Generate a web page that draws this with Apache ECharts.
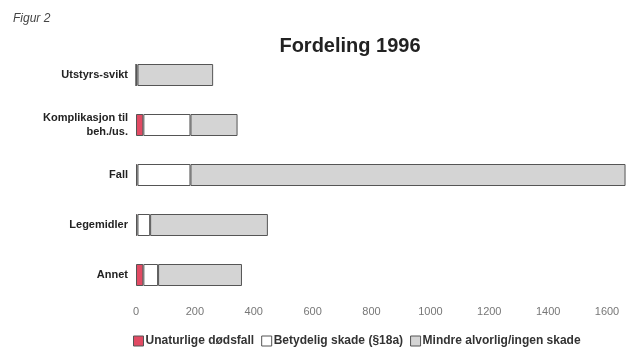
<!DOCTYPE html>
<html>
<head>
<meta charset="utf-8">
<script src="https://cdn.jsdelivr.net/npm/echarts@6/dist/echarts.min.js"></script>
<style>
  html, body { margin: 0; padding: 0; background: #fff; }
  #chart { width: 644px; height: 354px; }
</style>
</head>
<body>
<div id="chart"></div>
<script>
// categories top to bottom
const categories = ['Utstyrs-svikt', 'Komplikasjon til\nbeh./us.', 'Fall', 'Legemidler', 'Annet'];
const seriesNames = ['Unaturlige dødsfall', 'Betydelig skade (§18a)', 'Mindre alvorlig/ingen skade'];
// values
const dodsfall = [0, 25, 5, 5, 25];
const betydelig = [5, 160, 180, 43, 50];
const mindre = [257, 160, 1478, 400, 285];
const xTicks = [0, 200, 400, 600, 800, 1000, 1200, 1400, 1600];

const chart = echarts.init(document.getElementById('chart'));

// felles stil for stolpene
const border = { borderColor: '#555', borderWidth: 1 };

const option = {
  animation: false,
  textStyle: { fontFamily: 'Liberation Sans, Arial, sans-serif' },
  title: [
    {
      text: 'Figur 2',
      left: 8,
      top: 8,
      textStyle: { fontSize: 12, fontStyle: 'italic', fontWeight: 'normal', color: '#444' }
    },
    {
      text: 'Fordeling 1996',
      left: 345,
      top: 31,
      textAlign: 'center',
      textStyle: { fontSize: 20, fontWeight: 'bold', color: '#222' }
    }
  ],
  legend: {
    data: seriesNames,
    left: 128,
    top: 330,
    icon: 'rect',
    itemWidth: 10,
    itemHeight: 10,
    itemGap: 7,
    itemStyle: { borderColor: '#555', borderWidth: 1 },
    textStyle: { fontSize: 12, color: '#333', fontWeight: 'bold', padding: [0, 0, 0, -3] }
  },
  grid: {
    left: 136,
    right: 37,
    top: 50,
    bottom: 54
  },
  xAxis: {
    type: 'value',
    min: xTicks[0],
    max: xTicks[xTicks.length - 1],
    interval: 200,
    axisLine: { show: false },
    axisTick: { show: false },
    splitLine: { show: false },
    axisLabel: { fontSize: 11, color: '#777', margin: 6, formatter: v => String(v) }
  },
  yAxis: {
    type: 'category',
    data: categories,
    inverse: true,
    axisLine: { show: false },
    axisTick: { show: false },
    axisLabel: { fontSize: 11, color: '#222', fontWeight: 'bold', margin: 8, lineHeight: 14 }
  },
  series: [
    {
      name: seriesNames[0],
      type: 'bar',
      stack: 'total',
      barWidth: 22,
      clip: false,
      data: dodsfall,
      itemStyle: { color: '#e14a63', ...border }
    },
    {
      name: seriesNames[1],
      type: 'bar',
      stack: 'total',
      barWidth: 22,
      clip: false,
      data: betydelig,
      itemStyle: { color: '#ffffff', ...border }
    },
    {
      name: seriesNames[2],
      type: 'bar',
      stack: 'total',
      barWidth: 22,
      clip: false,
      data: mindre,
      itemStyle: { color: '#d4d4d4', ...border }
    }
  ]
};

chart.setOption(option);
</script>
</body>
</html>
